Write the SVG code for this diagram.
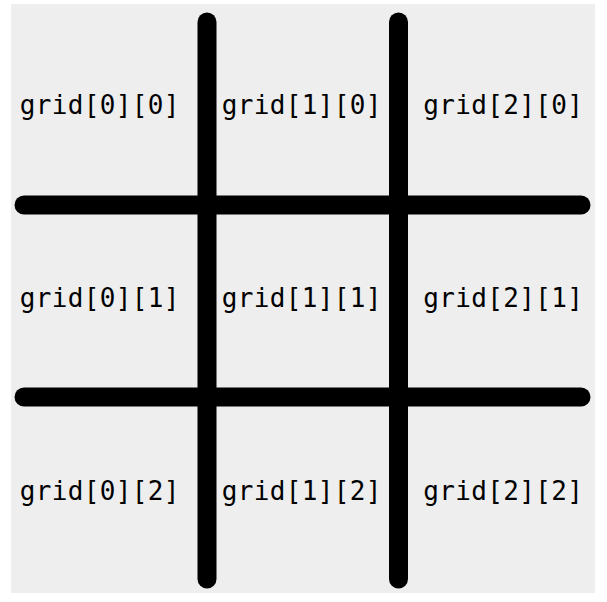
<svg xmlns="http://www.w3.org/2000/svg" width="607" height="602" viewBox="0 0 607 602">
<style>
.t{font-family:"DejaVu Sans Mono",monospace;font-size:26px;letter-spacing:0.35px;fill:#000;text-anchor:middle}
.l{stroke:#000;stroke-width:19;stroke-linecap:round;fill:none}
</style>
<rect x="11" y="4" width="584" height="589" fill="#eeeeee"/>
<g id="connectors">
<line class="l" x1="207" y1="22" x2="207" y2="579"/>
<line class="l" x1="398.5" y1="22" x2="398.5" y2="579"/>
<line class="l" x1="24" y1="205" x2="581" y2="205"/>
<line class="l" x1="24" y1="397" x2="581" y2="397"/>
</g>
<g id="n00"><text class="t" x="99.8" y="114">grid[0][0]</text></g>
<g id="n10"><text class="t" x="301.8" y="114">grid[1][0]</text></g>
<g id="n20"><text class="t" x="503.3" y="114">grid[2][0]</text></g>
<g id="n01"><text class="t" x="99.8" y="307">grid[0][1]</text></g>
<g id="n11"><text class="t" x="301.8" y="307">grid[1][1]</text></g>
<g id="n21"><text class="t" x="503.3" y="307">grid[2][1]</text></g>
<g id="n02"><text class="t" x="99.8" y="500">grid[0][2]</text></g>
<g id="n12"><text class="t" x="301.8" y="500">grid[1][2]</text></g>
<g id="n22"><text class="t" x="503.3" y="500">grid[2][2]</text></g>
</svg>
